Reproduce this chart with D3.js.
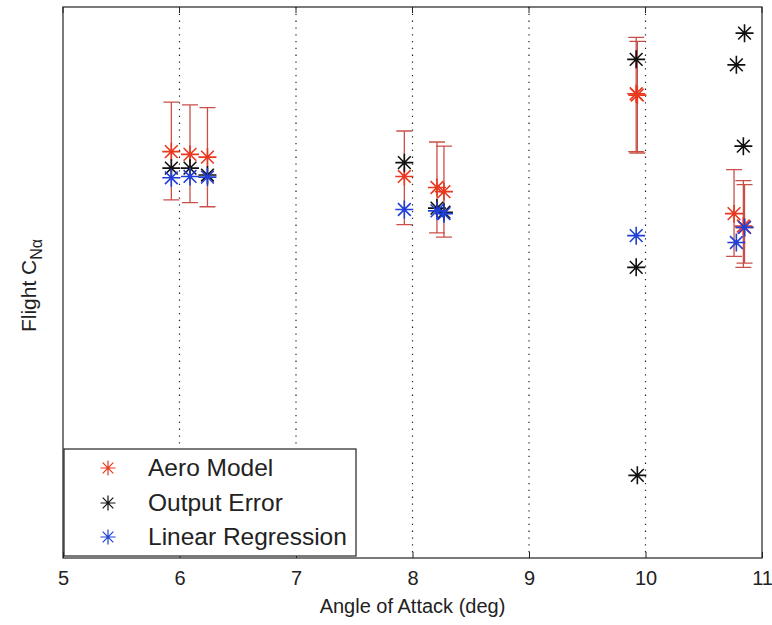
<!DOCTYPE html>
<html>
<head>
<meta charset="utf-8">
<script src="https://cdn.jsdelivr.net/npm/d3@7"></script>
<style>
  html, body { margin: 0; padding: 0; background: #fff; }
  svg { display: block; }
  text { font-family: "Liberation Sans", Arial, sans-serif; fill: #222; }
</style>
</head>
<body>
<div id="chart"></div>
<script>
// Angle of attack (deg) tick labels
const xTicks = [5, 6, 7, 8, 9, 10, 11];
const gridTicks = [6, 7, 8, 9, 10];

// Aero Model estimates with uncertainty bounds
const aeroAlpha = [5.93, 6.09, 6.24, 7.93, 8.21, 8.27, 9.92, 9.93, 10.76, 10.84, 10.85];
const aeroCN    = [5.95, 5.93, 5.91, 5.77, 5.69, 5.66, 6.37, 6.36, 5.50, 5.41, 5.40];
const aeroLow   = [5.60, 5.58, 5.55, 5.42, 5.36, 5.33, 5.95, 5.94, 5.19, 5.11, 5.14];
const aeroHigh  = [6.31, 6.29, 6.27, 6.10, 6.02, 5.99, 6.78, 6.75, 5.82, 5.74, 5.71];

// Output Error estimates
const oeAlpha = [5.93, 6.09, 6.24, 7.93, 8.21, 8.27, 9.92, 9.92, 9.93, 10.85, 10.78, 10.84];
const oeCN    = [5.83, 5.83, 5.78, 5.87, 5.54, 5.51, 6.62, 5.11, 3.60, 6.81, 6.58, 5.99];

// Linear Regression estimates
const lrAlpha = [5.93, 6.09, 6.24, 7.93, 8.21, 8.27, 9.92, 10.78, 10.85];
const lrCN    = [5.76, 5.77, 5.765, 5.53, 5.52, 5.50, 5.34, 5.29, 5.40];

const seriesNames = ["Aero Model", "Output Error", "Linear Regression"];
const seriesColors = ["#e8381f", "#111111", "#1f3fd6"];
const barColor = "#c9504a";

const W = 772, H = 625;
const m = { left: 63, right: 10, top: 7, bottom: 67 };

const svg = d3.select("#chart").append("svg")
  .attr("width", W).attr("height", H);

const x = d3.scaleLinear().domain([5, 11]).range([m.left, W - m.right]);
const y = d3.scaleLinear().domain([3, 7]).range([H - m.bottom, m.top]);

const pw = W - m.right - m.left, ph = H - m.bottom - m.top;

// dotted vertical grid
svg.append("g").selectAll("line").data(gridTicks).join("line")
  .attr("x1", d => x(d)).attr("x2", d => x(d))
  .attr("y1", m.top).attr("y2", H - m.bottom)
  .attr("stroke", "#222").attr("stroke-width", 1.2)
  .attr("stroke-dasharray", "1.3,5.5");

// asterisk marker path
function star(cx, cy, r) {
  const d = r * Math.SQRT1_2;
  return `M${cx - r},${cy}L${cx + r},${cy}M${cx},${cy - r}L${cx},${cy + r}` +
         `M${cx - d},${cy - d}L${cx + d},${cy + d}M${cx - d},${cy + d}L${cx + d},${cy - d}`;
}

// Aero Model error bars
const aero = aeroAlpha.map((a, i) => ({ a, v: aeroCN[i], lo: aeroLow[i], hi: aeroHigh[i] }));
const cap = 8;
const eb = svg.append("g").attr("stroke", barColor).attr("stroke-width", 1.3).attr("fill", "none");
eb.selectAll("path").data(aero).join("path")
  .attr("d", d => {
    const cx = x(d.a), y0 = y(d.lo), y1 = y(d.hi);
    return `M${cx},${y0}L${cx},${y1}M${cx - cap},${y0}L${cx + cap},${y0}M${cx - cap},${y1}L${cx + cap},${y1}`;
  });

function drawStars(alpha, vals, color) {
  svg.append("g").attr("stroke", color).attr("stroke-width", 1.6).attr("fill", "none")
    .selectAll("path").data(alpha.map((a, i) => ({ a, v: vals[i] }))).join("path")
    .attr("d", d => star(x(d.a), y(d.v), 9));
}
drawStars(aeroAlpha, aeroCN, seriesColors[0]);
drawStars(oeAlpha, oeCN, seriesColors[1]);
drawStars(lrAlpha, lrCN, seriesColors[2]);

// axes box
svg.append("rect")
  .attr("x", m.left).attr("y", m.top).attr("width", pw).attr("height", ph)
  .attr("fill", "none").attr("stroke", "#222").attr("stroke-width", 1.2);

// bottom axis with inward ticks
const xAxis = svg.append("g").attr("transform", `translate(0,${H - m.bottom})`)
  .call(d3.axisBottom(x).tickValues(xTicks).tickFormat(d3.format("d")).tickSize(-6).tickPadding(13));
xAxis.select(".domain").remove();
xAxis.selectAll("line").attr("stroke", "#222");
xAxis.selectAll("text").attr("font-size", 20).attr("fill", "#222")
  .attr("font-family", "Liberation Sans, Arial, sans-serif");

// top inward ticks
svg.append("g").selectAll("line").data(xTicks).join("line")
  .attr("x1", d => x(d)).attr("x2", d => x(d))
  .attr("y1", m.top).attr("y2", m.top + 6)
  .attr("stroke", "#222");

// axis titles
svg.append("text")
  .attr("x", (m.left + W - m.right) / 2).attr("y", 613)
  .attr("text-anchor", "middle").attr("font-size", 20)
  .text("Angle of Attack (deg)");

const yl = svg.append("text")
  .attr("transform", `translate(36,${m.top + ph / 2 + 3}) rotate(-90)`)
  .attr("text-anchor", "middle").attr("font-size", 21);
yl.append("tspan").text("Flight C");
yl.append("tspan").attr("font-size", 16).attr("dy", 6).text("Nα");

// legend
const lg = svg.append("g");
lg.append("rect")
  .attr("x", 64).attr("y", 449).attr("width", 292).attr("height", 107)
  .attr("fill", "#fff").attr("stroke", "#222").attr("stroke-width", 1.2);
const rowY = [468, 503, 537];
seriesNames.forEach((name, i) => {
  lg.append("path").attr("d", star(108, rowY[i], 7.5))
    .attr("stroke", seriesColors[i]).attr("stroke-width", 1.2).attr("fill", "none");
  lg.append("text").attr("x", 148).attr("y", rowY[i] + 8)
    .attr("font-size", 24.5).attr("textLength", null).text(name);
});
</script>
</body>
</html>
